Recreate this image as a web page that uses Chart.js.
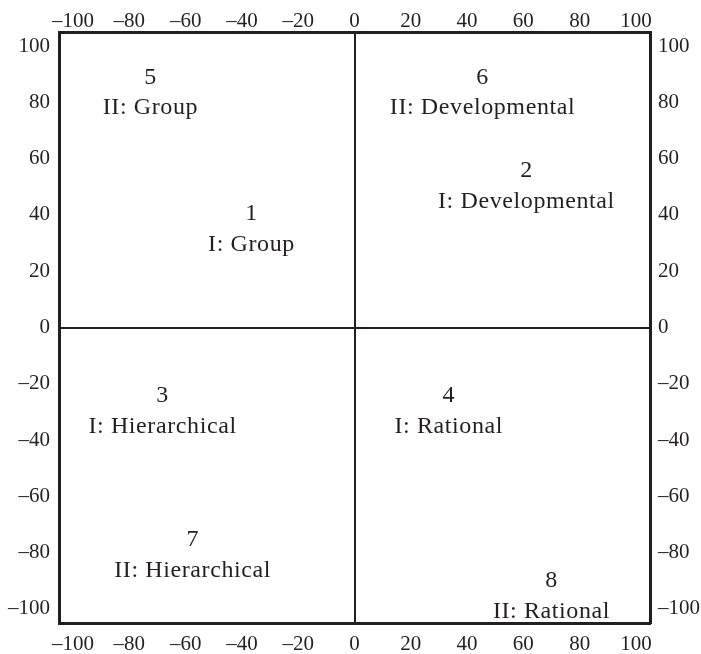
<!DOCTYPE html>
<html lang="en">
<head>
  <meta charset="UTF-8">
  <title>Quadrant chart</title>
  <script src="https://cdn.jsdelivr.net/npm/chart.js"></script>
  <style>
    html, body { margin: 0; padding: 0; background: #fff; }
    #wrap { width: 701px; height: 654px; }
  </style>
</head>
<body>
  <div id="wrap">
    <canvas id="chart0"></canvas>
  </div>

  <script>
    /* Data. */
    const numbers = ["5", "6", "2", "1", "3", "4", "7", "8"]
    const labels = ["II: Group", "II: Developmental", "I: Developmental", "I: Group",
                    "I: Hierarchical", "I: Rational", "II: Hierarchical", "II: Rational"]
    const xValues = [-72.5, 45.5, 61.1, -36.6, -68.2, 33.5, -57.5, 70.0]
    const yValues = [89.7, 89.7, 56.4, 41.2, -23.5, -23.5, -74.7, -89.2]
    const tickValues = [-100, -80, -60, -40, -20, 0, 20, 40, 60, 80, 100]

    const ink = "#231f20"
    const serif = "'Liberation Serif', 'Times New Roman', serif"

    /* Number above, label below, at each point. */
    const textLabels = {
      id: "textLabels",
      afterDatasetsDraw(chart) {
        const ctx = chart.ctx
        const meta = chart.getDatasetMeta(0)
        ctx.save()
        ctx.fillStyle = ink
        ctx.textAlign = "center"
        ctx.textBaseline = "alphabetic"
        ctx.font = "24px " + serif
        ctx.letterSpacing = "0.6px"
        meta.data.forEach((pt, i) => {
          ctx.fillText(numbers[i], pt.x, pt.y + 8.5)
          ctx.fillText(labels[i], pt.x, pt.y + 39)
        })
        ctx.restore()
      }
    }

    const fmt = v => (v < 0 ? "\u2013" + Math.abs(v) : String(v))

    const makeAxis = (position, size, padding, zeroLine) => ({
      type: "linear",
      position: position,
      min: -105,
      max: 105,
      afterBuildTicks: scale => { scale.ticks = tickValues.map(v => ({ value: v })) },
      afterFit: scale => {
        if (position === "left" || position === "right") scale.width = size
        else scale.height = size
      },
      grid: {
        display: zeroLine,
        drawTicks: false,
        lineWidth: 2,
        color: c => (c.tick && c.tick.value === 0 ? ink : "rgba(0,0,0,0)")
      },
      border: { display: true, color: ink, width: 3 },
      ticks: {
        padding: padding,
        color: ink,
        font: { family: serif, size: 21, lineHeight: 1 },
        maxRotation: 0,
        autoSkip: false,
        callback: v => fmt(v)
      }
    })

    const ctx0 = document.getElementById("chart0").getContext("2d")
    const myChart0 = new Chart(ctx0, {
      type: "scatter",
      data: {
        datasets: [{
          data: xValues.map((x, i) => ({ x: x, y: yValues[i] })),
          pointRadius: 0,
          pointHoverRadius: 0
        }]
      },
      options: {
        responsive: true,
        maintainAspectRatio: false,
        animation: false,
        layout: { padding: 0 },
        scales: {
          x: makeAxis("bottom", 31, 11, true),
          x2: Object.assign(makeAxis("top", 32, 0, false), { axis: "x" }),
          y: makeAxis("left", 59, 9, true),
          y2: Object.assign(makeAxis("right", 51, 8, false), { axis: "y" })
        },
        plugins: {
          legend: { display: false },
          tooltip: { enabled: false }
        }
      },
      plugins: [textLabels]
    })
  </script>
</body>
</html>
